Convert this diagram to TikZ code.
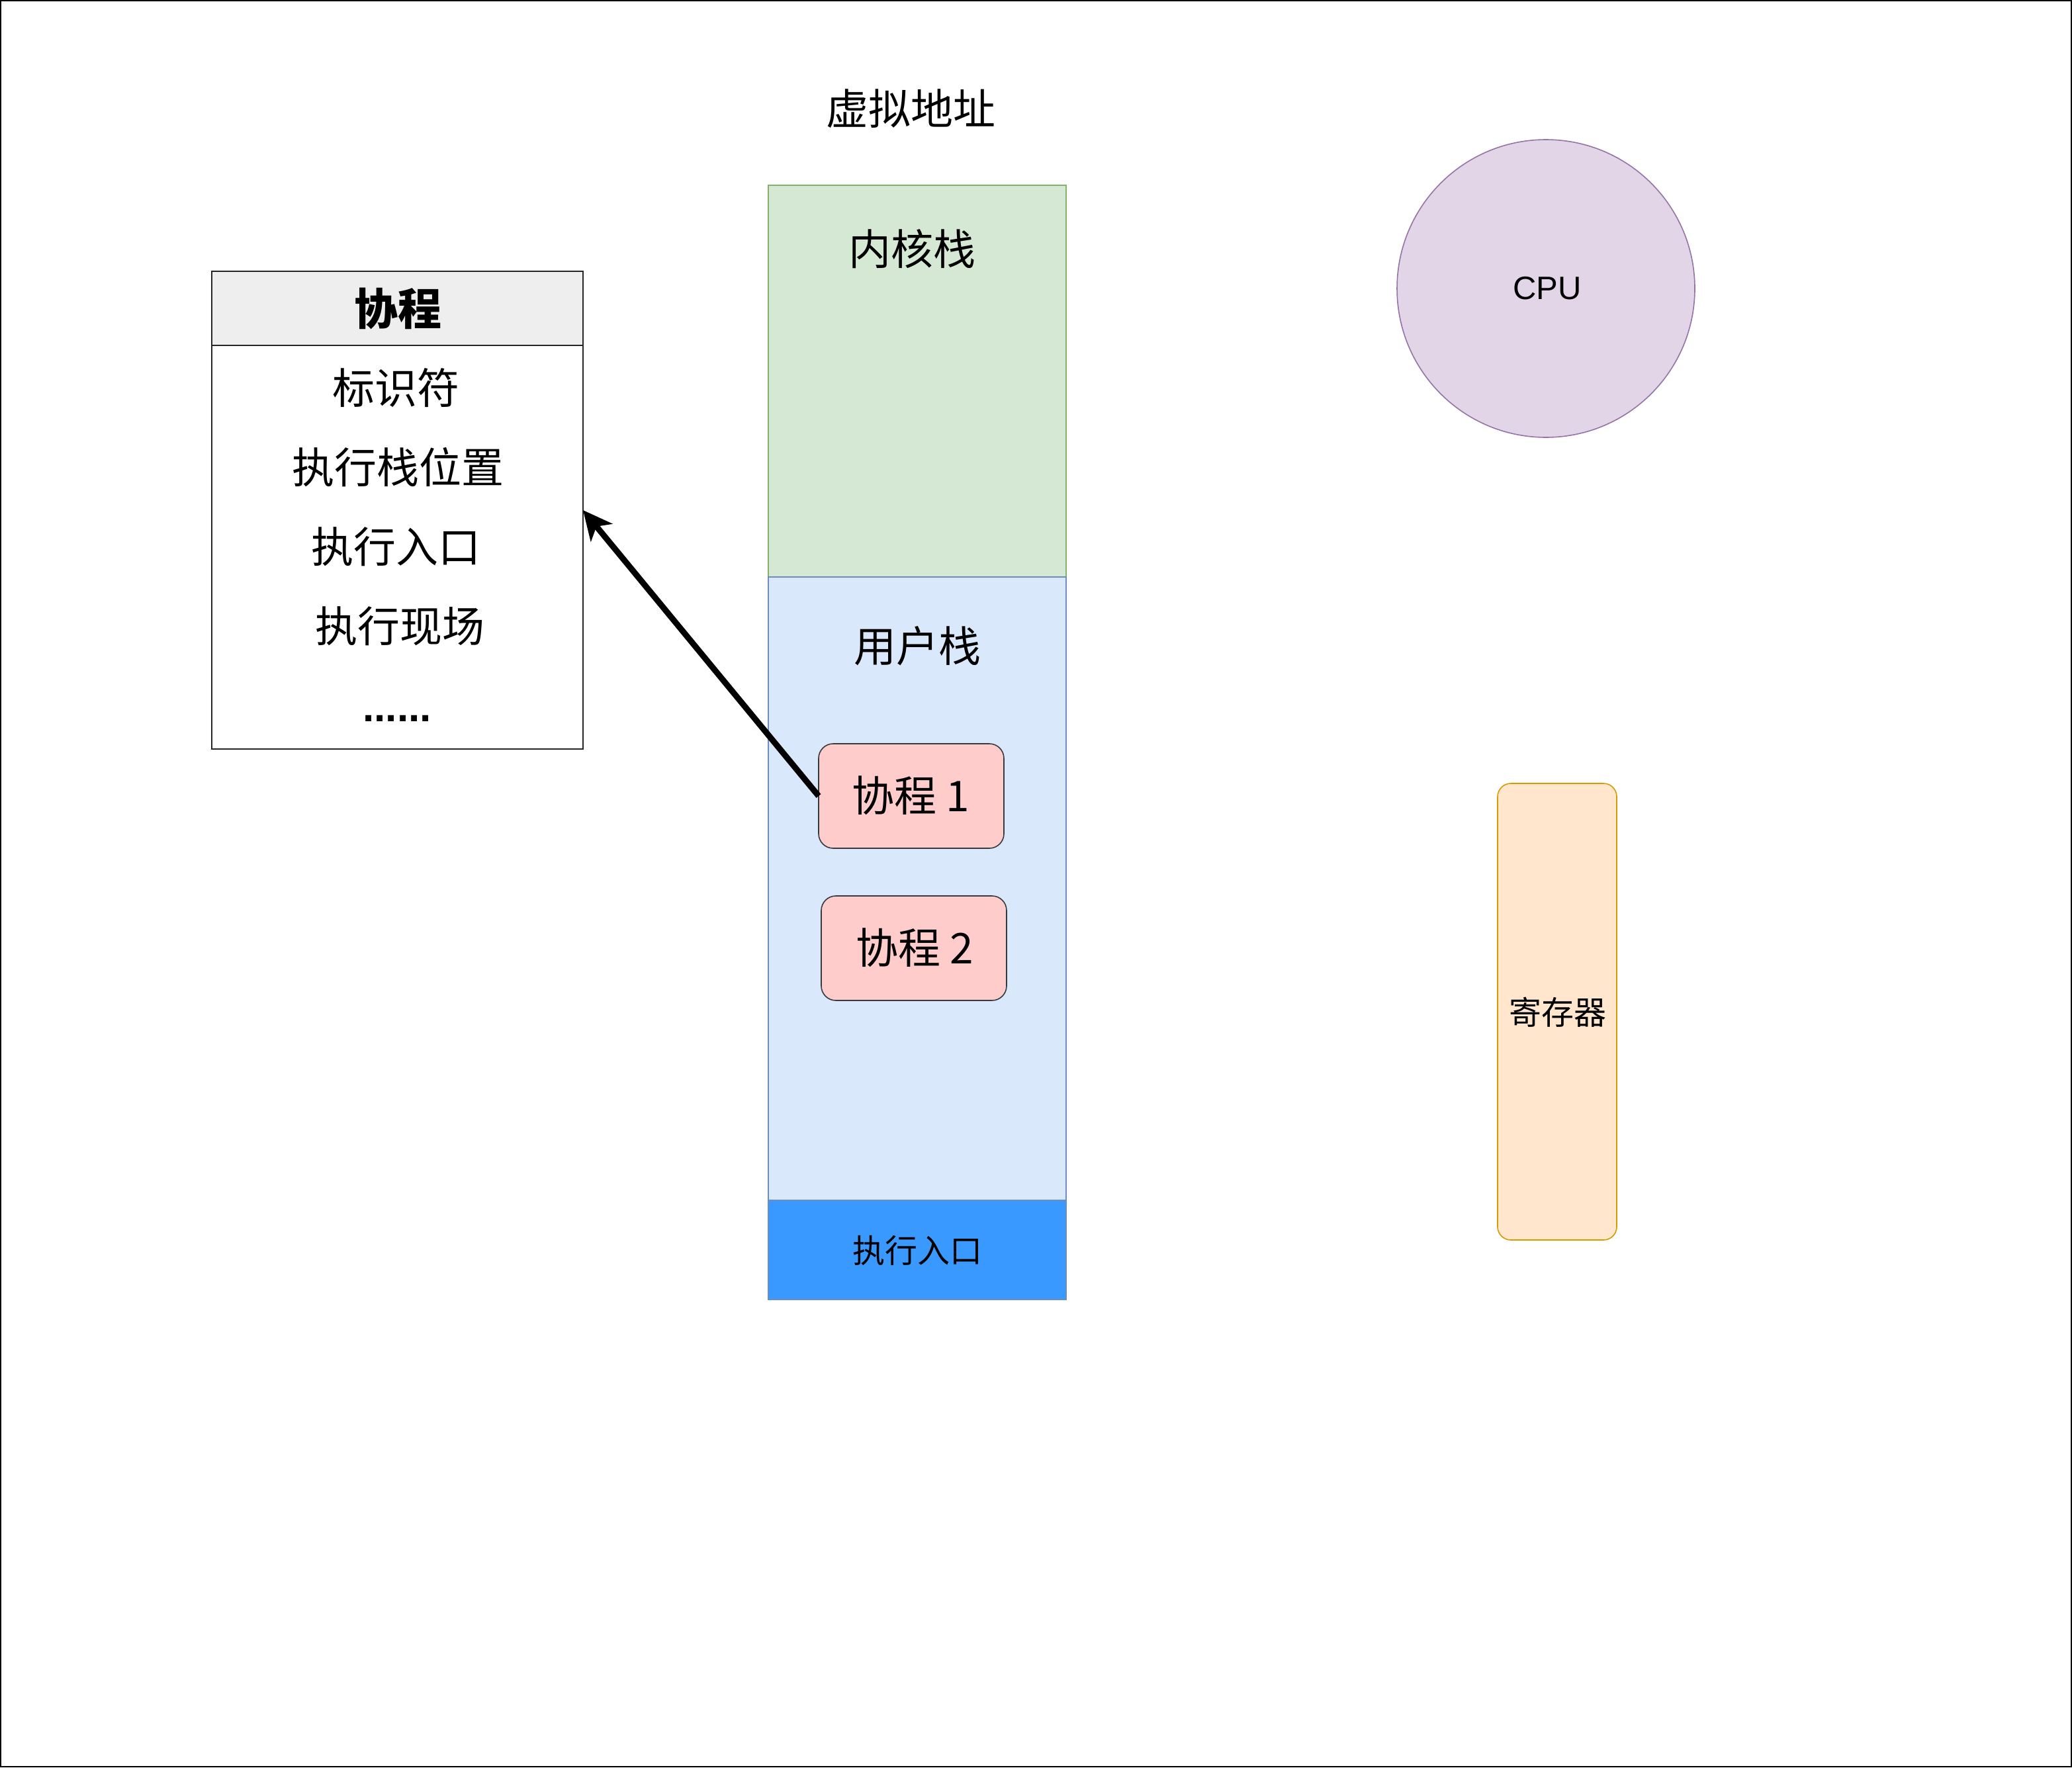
\documentclass[tikz,border=0pt]{standalone}
\usepackage{fontspec}
\setmainfont{Liberation Sans}
\newfontfamily\cjk{Noto Sans CJK SC}
\usetikzlibrary{arrows.meta,positioning}
\definecolor{kgreen}{HTML}{D5E8D4}
\definecolor{kgreenl}{HTML}{82B366}
\definecolor{ublue}{HTML}{DAE8FC}
\definecolor{ubluel}{HTML}{6C8EBF}
\definecolor{eblue}{HTML}{3999FF}
\definecolor{cpink}{HTML}{FFCCCC}
\definecolor{cdark}{HTML}{36393D}
\definecolor{cpuf}{HTML}{E1D5E7}
\definecolor{cpul}{HTML}{9673A6}
\definecolor{regf}{HTML}{FFE6CC}
\definecolor{regl}{HTML}{D79B00}
\definecolor{hdr}{HTML}{EEEEEE}
\tikzset{
  box/.style={draw, line width=0.8pt, inner sep=0pt, outer sep=0pt, anchor=north west},
  big/.style={font=\cjk\fontsize{32}{38}\selectfont, inner sep=0pt},
  mid/.style={font=\cjk\fontsize{24.5}{29}\selectfont, inner sep=0pt},
}
\begin{document}
\begin{tikzpicture}[x=1pt,y=-1pt]
\useasboundingbox (0,0) rectangle (1565.5,1335.5);
\draw[line width=1pt, black] (0.5,0.5) rectangle (1565,1335);

% title
\node[big] (title) at (688,82) {虚拟地址};

% stacks
\node[box, fill=kgreen, draw=kgreenl, minimum width=225pt, minimum height=296pt] (kstack) at (580.5,140) {};
\node[big] (klabel) at (689,188) {内核栈};
\node[box, fill=ublue, draw=ubluel, minimum width=225pt, minimum height=471pt] (ustack) at (580.5,436) {};
\node[big] (ulabel) at (693,488) {用户栈};
\node[box, fill=eblue, draw=ubluel, minimum width=225pt, minimum height=75pt] (entry) at (580.5,907) {};
\node[mid] (elabel) at (693,945) {执行入口};

% coroutines
\node[box, fill=cpink, draw=cdark, rounded corners=11pt, minimum width=140pt, minimum height=79pt] (co1) at (618.5,562) {};
\node[big] (co1t) at (688,601) {{\cjk 协程} 1};
\node[box, fill=cpink, draw=cdark, rounded corners=11pt, minimum width=140pt, minimum height=79pt] (co2) at (620.5,677) {};
\node[big] (co2t) at (691,716) {{\cjk 协程} 2};

% CPU
\node[circle, fill=cpuf, draw=cpul, line width=0.8pt, minimum size=225pt, inner sep=0pt] (cpu) at (1168,218) {};
\node[font=\fontsize{24.5}{29}\selectfont, inner sep=0pt] (cput) at (1169,218) {CPU};

% register
\node[box, fill=regf, draw=regl, rounded corners=10pt, minimum width=90pt, minimum height=345pt] (reg) at (1131.5,592) {};
\node[mid] (regt) at (1177,765) {寄存器};

% table
\node[box, fill=white, draw=black!85, minimum width=280.5pt, minimum height=361pt] (tbl) at (160,205) {};
\node[box, fill=hdr, draw=black!85, minimum width=280.5pt, minimum height=56pt] (thdr) at (160,205) {};
\node[font=\cjk\bfseries\fontsize{33}{39}\selectfont, inner sep=0pt] (thdrt) at (300.5,233) {协程};
\node[big] (t1) at (299,293) {标识符};
\node[big] (t2) at (300.5,353) {执行栈位置};
\node[big] (t3) at (299,413) {执行入口};
\node[big] (t4) at (302,473) {执行现场};
\node[font=\fontsize{31}{36}\selectfont\bfseries, inner sep=0pt, anchor=base] (t5) at (300,545) {......};

% arrow
\draw[line width=4.5pt, -{Stealth[length=22pt, width=21pt, inset=6pt]}] (co1.west) -- (tbl.east);
\end{tikzpicture}
\end{document}
